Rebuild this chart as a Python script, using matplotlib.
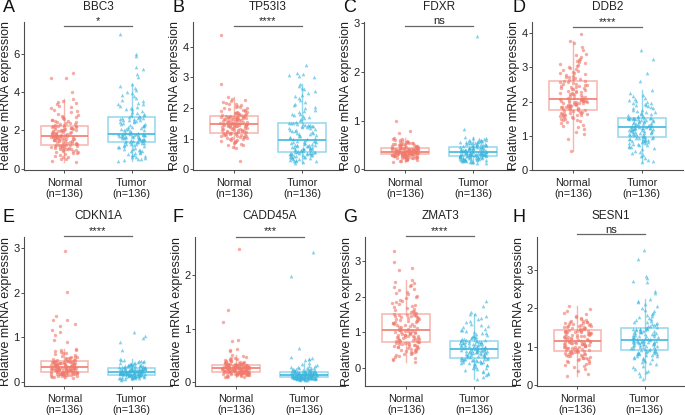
import numpy as np
import matplotlib
matplotlib.use('Agg')
import matplotlib.pyplot as plt

plt.rcParams['font.family'] = ['Liberation Sans', 'DejaVu Sans']

genes = ['BBC3', 'TP53I3', 'FDXR', 'DDB2', 'CDKN1A', 'CADD45A', 'ZMAT3', 'SESN1']
panel_letters = ['A', 'B', 'C', 'D', 'E', 'F', 'G', 'H']
significance = ['*', '****', 'ns', '****', '****', '***', '****', 'ns']
group_labels = ['Normal\n(n=136)', 'Tumor\n(n=136)']

bbc3_normal = [0.34, 0.41, 0.5, 0.53, 0.6, 0.64, 0.65, 0.72, 0.77, 0.8, 0.83, 0.86, 0.9, 0.91, 0.95, 0.97, 0.99, 1.01, 1.03, 1.05, 1.06, 1.08, 1.1, 1.11, 1.13, 1.14, 1.16, 1.17, 1.19, 1.2, 1.22, 1.23, 1.24, 1.25,
               1.26, 1.27, 1.3, 1.31, 1.33, 1.36, 1.37, 1.38, 1.41, 1.42, 1.44, 1.45, 1.47, 1.48, 1.5, 1.51, 1.52, 1.54, 1.55, 1.57, 1.58, 1.6, 1.61, 1.62, 1.63, 1.65, 1.66, 1.67, 1.68, 1.69, 1.7, 1.71, 1.72, 1.72,
               1.73, 1.74, 1.76, 1.77, 1.79, 1.8, 1.82, 1.83, 1.85, 1.86, 1.88, 1.9, 1.91, 1.93, 1.95, 1.96, 1.98, 2.0, 2.01, 2.03, 2.04, 2.06, 2.08, 2.09, 2.11, 2.12, 2.14, 2.16, 2.17, 2.19, 2.2, 2.22, 2.24, 2.25,
               2.27, 2.3, 2.32, 2.35, 2.37, 2.4, 2.43, 2.46, 2.5, 2.53, 2.56, 2.6, 2.63, 2.68, 2.72, 2.77, 2.83, 2.88, 2.95, 3.02, 3.08, 3.15, 3.22, 3.3, 3.38, 3.45, 3.5, 3.55, 3.62, 4.0, 4.72, 4.75, 5.0, 2.48]
bbc3_tumor = [0.43, 0.47, 0.5, 0.52, 0.55, 0.6, 0.61, 0.66, 0.7, 0.74, 0.78, 0.8, 0.85, 0.88, 0.92, 0.95, 0.97, 1.0, 1.04, 1.06, 1.1, 1.12, 1.15, 1.18, 1.2, 1.23, 1.25, 1.27, 1.3, 1.32, 1.34, 1.36, 1.38, 1.4,
              1.41, 1.42, 1.44, 1.45, 1.47, 1.49, 1.5, 1.52, 1.53, 1.55, 1.56, 1.58, 1.59, 1.6, 1.62, 1.63, 1.64, 1.66, 1.67, 1.68, 1.7, 1.71, 1.72, 1.73, 1.74, 1.75, 1.76, 1.77, 1.78, 1.79, 1.8, 1.81, 1.82, 1.82,
              1.84, 1.86, 1.89, 1.91, 1.94, 1.97, 2.0, 2.02, 2.05, 2.08, 2.1, 2.13, 2.16, 2.19, 2.22, 2.25, 2.28, 2.3, 2.33, 2.36, 2.39, 2.42, 2.45, 2.47, 2.5, 2.52, 2.55, 2.57, 2.6, 2.62, 2.64, 2.66, 2.67, 2.68,
              2.7, 2.74, 2.78, 2.82, 2.87, 2.92, 2.97, 3.03, 3.1, 3.16, 3.22, 3.3, 3.37, 3.45, 3.52, 3.6, 3.68, 3.77, 3.85, 3.93, 4.0, 4.1, 4.22, 4.3, 4.42, 4.8, 4.92, 5.2, 5.3, 5.9, 6.0, 7.0, 3.4, 3.1]

tp53i3_normal = [0.27, 0.7, 0.74, 0.78, 0.8, 0.84, 0.87, 0.89, 0.9, 0.92, 0.94, 0.95, 0.97, 0.98, 1.0, 1.01, 1.02, 1.04, 1.05, 1.06, 1.07, 1.08, 1.09, 1.1, 1.11, 1.12, 1.13, 1.14, 1.15, 1.16, 1.17, 1.18, 1.19, 1.19,
                 1.2, 1.21, 1.22, 1.23, 1.24, 1.25, 1.26, 1.27, 1.28, 1.29, 1.3, 1.31, 1.32, 1.33, 1.34, 1.35, 1.36, 1.37, 1.38, 1.39, 1.4, 1.41, 1.42, 1.42, 1.43, 1.44, 1.44, 1.45, 1.45, 1.46, 1.46, 1.47, 1.47, 1.48,
                 1.49, 1.5, 1.5, 1.51, 1.52, 1.53, 1.54, 1.55, 1.56, 1.56, 1.57, 1.58, 1.59, 1.6, 1.61, 1.61, 1.62, 1.63, 1.64, 1.65, 1.65, 1.66, 1.67, 1.67, 1.68, 1.69, 1.69, 1.7, 1.7, 1.71, 1.71, 1.72, 1.72, 1.73,
                 1.74, 1.75, 1.76, 1.77, 1.78, 1.79, 1.8, 1.81, 1.83, 1.84, 1.85, 1.87, 1.88, 1.9, 1.91, 1.93, 1.95, 1.97, 1.99, 2.01, 2.03, 2.05, 2.07, 2.1, 2.12, 2.15, 2.18, 2.2, 2.23, 2.27, 2.31, 2.35, 2.78, 4.4]
tp53i3_tumor = [0.22, 0.24, 0.26, 0.27, 0.29, 0.3, 0.32, 0.33, 0.35, 0.36, 0.37, 0.39, 0.4, 0.41, 0.42, 0.43, 0.44, 0.45, 0.46, 0.47, 0.48, 0.49, 0.5, 0.5, 0.51, 0.52, 0.52, 0.53, 0.54, 0.54, 0.55, 0.56, 0.56, 0.57,
                0.58, 0.59, 0.6, 0.61, 0.62, 0.63, 0.64, 0.65, 0.66, 0.67, 0.68, 0.69, 0.7, 0.71, 0.72, 0.73, 0.74, 0.75, 0.76, 0.77, 0.78, 0.79, 0.8, 0.81, 0.82, 0.84, 0.85, 0.86, 0.88, 0.89, 0.9, 0.92, 0.93, 0.94,
                0.96, 0.98, 1.0, 1.02, 1.04, 1.06, 1.08, 1.1, 1.12, 1.14, 1.16, 1.18, 1.2, 1.22, 1.24, 1.26, 1.28, 1.3, 1.32, 1.34, 1.35, 1.37, 1.38, 1.4, 1.41, 1.42, 1.43, 1.44, 1.45, 1.46, 1.47, 1.48, 1.5, 1.51,
                1.53, 1.56, 1.6, 1.63, 1.67, 1.7, 1.74, 1.78, 1.82, 1.86, 1.9, 1.95, 2.0, 2.05, 2.1, 2.15, 2.2, 2.26, 2.32, 2.38, 2.44, 2.5, 2.56, 2.62, 2.66, 2.72, 2.79, 3.0, 3.05, 3.08, 3.12, 3.15, 3.42, 1.8]

fdxr_normal = [0.14, 0.16, 0.17, 0.18, 0.19, 0.196, 0.202, 0.208, 0.214, 0.219, 0.224, 0.228, 0.232, 0.236, 0.24, 0.244, 0.248, 0.251, 0.254, 0.257, 0.26, 0.263, 0.266, 0.269, 0.272, 0.275, 0.278, 0.281, 0.284, 0.287, 0.29, 0.293, 0.296, 0.299,
               0.301, 0.303, 0.305, 0.307, 0.309, 0.31, 0.312, 0.314, 0.315, 0.317, 0.318, 0.32, 0.322, 0.323, 0.325, 0.326, 0.328, 0.33, 0.331, 0.333, 0.335, 0.336, 0.338, 0.34, 0.341, 0.343, 0.345, 0.347, 0.349, 0.351, 0.353, 0.355, 0.357, 0.36,
               0.362, 0.364, 0.366, 0.368, 0.37, 0.373, 0.375, 0.377, 0.379, 0.381, 0.384, 0.386, 0.388, 0.391, 0.393, 0.395, 0.398, 0.4, 0.402, 0.405, 0.407, 0.41, 0.412, 0.415, 0.417, 0.42, 0.422, 0.425, 0.427, 0.43, 0.432, 0.435, 0.437, 0.44,
               0.45, 0.45, 0.46, 0.46, 0.47, 0.47, 0.48, 0.48, 0.49, 0.49, 0.5, 0.5, 0.51, 0.51, 0.52, 0.52, 0.53, 0.53, 0.54, 0.54, 0.55, 0.56, 0.56, 0.57, 0.58, 0.59, 0.6, 0.61, 0.62, 0.64, 0.75, 0.78, 1.0, 0.5]
fdxr_tumor = [0.12, 0.13, 0.14, 0.147, 0.153, 0.158, 0.163, 0.168, 0.172, 0.176, 0.18, 0.184, 0.188, 0.192, 0.195, 0.198, 0.202, 0.205, 0.208, 0.212, 0.215, 0.218, 0.222, 0.225, 0.228, 0.232, 0.235, 0.238, 0.242, 0.245, 0.249, 0.252, 0.256, 0.26,
              0.262, 0.265, 0.267, 0.27, 0.272, 0.275, 0.277, 0.279, 0.282, 0.284, 0.286, 0.289, 0.291, 0.293, 0.296, 0.298, 0.3, 0.303, 0.305, 0.307, 0.31, 0.312, 0.314, 0.317, 0.319, 0.321, 0.324, 0.326, 0.328, 0.331, 0.333, 0.335, 0.338, 0.34,
              0.343, 0.347, 0.35, 0.354, 0.357, 0.361, 0.364, 0.368, 0.371, 0.375, 0.378, 0.382, 0.385, 0.389, 0.392, 0.396, 0.399, 0.403, 0.406, 0.41, 0.413, 0.417, 0.42, 0.424, 0.427, 0.431, 0.434, 0.438, 0.441, 0.445, 0.448, 0.452, 0.456, 0.46,
              0.47, 0.47, 0.48, 0.48, 0.49, 0.49, 0.5, 0.5, 0.51, 0.51, 0.52, 0.52, 0.53, 0.53, 0.54, 0.54, 0.55, 0.55, 0.56, 0.56, 0.57, 0.57, 0.58, 0.58, 0.59, 0.6, 0.6, 0.61, 0.62, 0.63, 0.64, 0.66, 0.83, 2.74]

ddb2_normal = [0.55, 0.9, 1.05, 1.12, 1.2, 1.25, 1.3, 1.33, 1.37, 1.4, 1.42, 1.45, 1.47, 1.49, 1.5, 1.52, 1.54, 1.55, 1.57, 1.58, 1.6, 1.61, 1.62, 1.63, 1.64, 1.65, 1.66, 1.67, 1.68, 1.69, 1.71, 1.72, 1.74, 1.75,
               1.76, 1.77, 1.78, 1.79, 1.8, 1.81, 1.82, 1.83, 1.84, 1.85, 1.86, 1.87, 1.88, 1.89, 1.9, 1.91, 1.92, 1.93, 1.94, 1.95, 1.96, 1.97, 1.98, 1.99, 2.0, 2.0, 2.01, 2.02, 2.02, 2.03, 2.04, 2.04, 2.05, 2.06,
               2.07, 2.09, 2.1, 2.12, 2.13, 2.15, 2.16, 2.18, 2.2, 2.21, 2.23, 2.24, 2.26, 2.28, 2.29, 2.31, 2.32, 2.34, 2.36, 2.37, 2.39, 2.4, 2.42, 2.44, 2.45, 2.47, 2.48, 2.5, 2.51, 2.53, 2.54, 2.56, 2.57, 2.59,
               2.61, 2.63, 2.65, 2.67, 2.69, 2.71, 2.73, 2.75, 2.78, 2.8, 2.83, 2.85, 2.88, 2.9, 2.93, 2.95, 2.98, 3.0, 3.03, 3.06, 3.09, 3.12, 3.15, 3.18, 3.22, 3.26, 3.3, 3.35, 3.4, 3.5, 3.6, 3.72, 3.76, 3.97]
ddb2_tumor = [0.22, 0.26, 0.3, 0.35, 0.4, 0.45, 0.5, 0.53, 0.57, 0.6, 0.63, 0.66, 0.68, 0.7, 0.72, 0.74, 0.76, 0.77, 0.79, 0.8, 0.81, 0.83, 0.84, 0.85, 0.86, 0.87, 0.88, 0.89, 0.9, 0.91, 0.92, 0.93, 0.94, 0.95,
              0.96, 0.97, 0.98, 0.99, 1.0, 1.01, 1.02, 1.03, 1.04, 1.05, 1.06, 1.07, 1.08, 1.09, 1.1, 1.11, 1.12, 1.13, 1.14, 1.15, 1.16, 1.17, 1.18, 1.19, 1.2, 1.2, 1.21, 1.22, 1.22, 1.23, 1.23, 1.24, 1.24, 1.25,
              1.26, 1.27, 1.28, 1.29, 1.3, 1.31, 1.32, 1.33, 1.34, 1.35, 1.36, 1.37, 1.38, 1.39, 1.4, 1.41, 1.42, 1.43, 1.44, 1.45, 1.46, 1.47, 1.48, 1.49, 1.5, 1.5, 1.51, 1.51, 1.52, 1.52, 1.52, 1.53, 1.53, 1.53,
              1.55, 1.57, 1.59, 1.61, 1.63, 1.65, 1.67, 1.69, 1.71, 1.73, 1.75, 1.77, 1.8, 1.82, 1.85, 1.87, 1.9, 1.92, 1.95, 1.97, 2.0, 2.02, 2.05, 2.08, 2.12, 2.16, 2.2, 2.26, 2.35, 2.61, 2.85, 3.24, 3.5, 1.9]

cdkn1a_normal = [0.1, 0.11, 0.12, 0.12, 0.13, 0.13, 0.14, 0.14, 0.15, 0.15, 0.16, 0.16, 0.17, 0.17, 0.17, 0.18, 0.18, 0.18, 0.19, 0.19, 0.19, 0.2, 0.2, 0.2, 0.21, 0.21, 0.21, 0.21, 0.22, 0.22, 0.22, 0.22, 0.23, 0.23,
                 0.23, 0.24, 0.24, 0.24, 0.25, 0.25, 0.25, 0.26, 0.26, 0.26, 0.27, 0.27, 0.27, 0.28, 0.28, 0.28, 0.29, 0.29, 0.29, 0.3, 0.3, 0.3, 0.3, 0.31, 0.31, 0.31, 0.31, 0.32, 0.32, 0.32, 0.32, 0.33, 0.33, 0.33,
                 0.34, 0.34, 0.35, 0.35, 0.36, 0.36, 0.37, 0.37, 0.38, 0.38, 0.38, 0.39, 0.39, 0.4, 0.4, 0.4, 0.41, 0.41, 0.42, 0.42, 0.42, 0.43, 0.43, 0.43, 0.44, 0.44, 0.44, 0.45, 0.45, 0.45, 0.46, 0.46, 0.47, 0.47,
                 0.48, 0.49, 0.5, 0.51, 0.52, 0.53, 0.54, 0.55, 0.56, 0.57, 0.58, 0.6, 0.62, 0.64, 0.66, 0.68, 0.7, 0.71, 0.72, 0.74, 0.89, 0.95, 1.05, 1.13, 1.17, 1.26, 1.29, 1.38, 1.39, 1.47, 2.01, 2.93, 0.5, 0.53]
cdkn1a_tumor = [0.05, 0.06, 0.07, 0.08, 0.08, 0.09, 0.09, 0.1, 0.1, 0.11, 0.11, 0.11, 0.12, 0.12, 0.12, 0.13, 0.13, 0.13, 0.13, 0.14, 0.14, 0.14, 0.14, 0.15, 0.15, 0.15, 0.15, 0.15, 0.16, 0.16, 0.16, 0.16, 0.16, 0.16,
                0.17, 0.17, 0.17, 0.17, 0.18, 0.18, 0.18, 0.18, 0.18, 0.19, 0.19, 0.19, 0.19, 0.19, 0.2, 0.2, 0.2, 0.2, 0.2, 0.21, 0.21, 0.21, 0.21, 0.21, 0.22, 0.22, 0.22, 0.22, 0.22, 0.23, 0.23, 0.23, 0.23, 0.23,
                0.24, 0.24, 0.24, 0.24, 0.25, 0.25, 0.25, 0.25, 0.26, 0.26, 0.26, 0.26, 0.27, 0.27, 0.27, 0.27, 0.28, 0.28, 0.28, 0.28, 0.29, 0.29, 0.29, 0.29, 0.3, 0.3, 0.3, 0.3, 0.31, 0.31, 0.31, 0.32, 0.32, 0.32,
                0.33, 0.33, 0.34, 0.34, 0.35, 0.35, 0.36, 0.36, 0.37, 0.37, 0.38, 0.38, 0.39, 0.39, 0.4, 0.4, 0.41, 0.42, 0.42, 0.43, 0.44, 0.45, 0.46, 0.47, 0.48, 0.49, 0.5, 0.52, 0.72, 0.9, 0.98, 1.04, 1.11, 0.36]

gadd45a_normal = [0.08, 0.09, 0.098, 0.104, 0.11, 0.115, 0.12, 0.124, 0.128, 0.131, 0.134, 0.137, 0.14, 0.143, 0.145, 0.148, 0.15, 0.152, 0.154, 0.156, 0.158, 0.16, 0.162, 0.164, 0.166, 0.167, 0.169, 0.171, 0.172, 0.174, 0.176, 0.177, 0.179, 0.18,
                  0.181, 0.184, 0.185, 0.188, 0.191, 0.192, 0.195, 0.196, 0.199, 0.2, 0.203, 0.204, 0.207, 0.208, 0.211, 0.212, 0.214, 0.217, 0.218, 0.221, 0.222, 0.225, 0.226, 0.228, 0.231, 0.232, 0.235, 0.236, 0.239, 0.24, 0.243, 0.245, 0.248, 0.25,
                  0.252, 0.254, 0.256, 0.258, 0.26, 0.262, 0.264, 0.266, 0.268, 0.27, 0.272, 0.274, 0.276, 0.278, 0.28, 0.282, 0.284, 0.286, 0.288, 0.29, 0.292, 0.294, 0.296, 0.298, 0.3, 0.302, 0.304, 0.306, 0.308, 0.31, 0.312, 0.314, 0.317, 0.32,
                  0.323, 0.326, 0.33, 0.334, 0.338, 0.342, 0.346, 0.35, 0.355, 0.36, 0.365, 0.37, 0.376, 0.382, 0.388, 0.395, 0.402, 0.41, 0.42, 0.43, 0.44, 0.455, 0.47, 0.485, 0.5, 0.58, 0.6, 0.62, 0.76, 0.79, 1.13, 1.34, 2.5, 0.36]
gadd45a_tumor = [0.03, 0.036, 0.041, 0.044, 0.047, 0.05, 0.052, 0.054, 0.056, 0.058, 0.059, 0.061, 0.062, 0.063, 0.065, 0.066, 0.067, 0.068, 0.069, 0.07, 0.071, 0.072, 0.073, 0.074, 0.075, 0.075, 0.076, 0.077, 0.077, 0.078, 0.078, 0.079, 0.079, 0.08,
                 0.081, 0.082, 0.083, 0.084, 0.085, 0.086, 0.087, 0.088, 0.089, 0.09, 0.092, 0.093, 0.095, 0.096, 0.098, 0.099, 0.101, 0.102, 0.104, 0.105, 0.107, 0.108, 0.11, 0.112, 0.113, 0.115, 0.117, 0.118, 0.12, 0.122, 0.124, 0.126, 0.128, 0.13,
                 0.131, 0.133, 0.135, 0.136, 0.138, 0.14, 0.141, 0.143, 0.145, 0.146, 0.148, 0.15, 0.151, 0.153, 0.155, 0.156, 0.158, 0.16, 0.161, 0.163, 0.165, 0.167, 0.168, 0.17, 0.172, 0.174, 0.176, 0.178, 0.18, 0.182, 0.184, 0.186, 0.188, 0.19,
                 0.192, 0.195, 0.198, 0.201, 0.205, 0.208, 0.212, 0.216, 0.22, 0.225, 0.23, 0.235, 0.24, 0.246, 0.252, 0.258, 0.265, 0.272, 0.28, 0.29, 0.3, 0.315, 0.33, 0.35, 0.4, 0.42, 0.43, 0.45, 0.47, 0.63, 1.98, 2.44, 0.226, 0.262]

zmat3_normal = [0.16, 0.2, 0.24, 0.27, 0.3, 0.32, 0.35, 0.37, 0.39, 0.41, 0.43, 0.45, 0.46, 0.48, 0.49, 0.5, 0.52, 0.53, 0.54, 0.55, 0.57, 0.58, 0.59, 0.6, 0.61, 0.62, 0.63, 0.64, 0.65, 0.66, 0.67, 0.68, 0.69, 0.7,
                0.71, 0.72, 0.73, 0.74, 0.75, 0.76, 0.77, 0.78, 0.79, 0.8, 0.81, 0.82, 0.83, 0.84, 0.85, 0.86, 0.87, 0.88, 0.89, 0.9, 0.91, 0.92, 0.93, 0.94, 0.95, 0.96, 0.97, 0.98, 0.99, 1.0, 1.01, 1.02, 1.03, 1.04,
                1.05, 1.07, 1.08, 1.1, 1.11, 1.13, 1.14, 1.16, 1.17, 1.19, 1.2, 1.22, 1.23, 1.25, 1.26, 1.28, 1.29, 1.31, 1.32, 1.34, 1.35, 1.37, 1.38, 1.39, 1.41, 1.42, 1.43, 1.44, 1.45, 1.46, 1.47, 1.48, 1.49, 1.5,
                1.52, 1.54, 1.56, 1.58, 1.6, 1.63, 1.65, 1.68, 1.7, 1.73, 1.76, 1.79, 1.82, 1.85, 1.88, 1.91, 1.95, 1.98, 2.02, 2.06, 2.1, 2.14, 2.18, 2.22, 2.26, 2.3, 2.34, 2.38, 2.42, 2.47, 2.75, 2.8, 2.98, 3.28]
zmat3_tumor = [-0.32, -0.28, -0.22, -0.19, -0.16, -0.12, -0.1, -0.07, -0.04, -0.02, 0.0, 0.02, 0.04, 0.06, 0.08, 0.09, 0.11, 0.12, 0.13, 0.14, 0.15, 0.16, 0.17, 0.18, 0.19, 0.2, 0.2, 0.21, 0.22, 0.22, 0.23, 0.24, 0.24, 0.25,
               0.26, 0.27, 0.28, 0.29, 0.3, 0.31, 0.32, 0.33, 0.34, 0.35, 0.36, 0.36, 0.37, 0.38, 0.39, 0.4, 0.41, 0.41, 0.42, 0.43, 0.44, 0.44, 0.45, 0.46, 0.46, 0.47, 0.47, 0.48, 0.48, 0.49, 0.49, 0.5, 0.5, 0.51,
               0.52, 0.52, 0.53, 0.54, 0.54, 0.55, 0.56, 0.57, 0.57, 0.58, 0.59, 0.6, 0.6, 0.61, 0.62, 0.63, 0.63, 0.64, 0.65, 0.66, 0.66, 0.67, 0.68, 0.69, 0.69, 0.7, 0.71, 0.72, 0.72, 0.73, 0.74, 0.75, 0.75, 0.76,
               0.77, 0.78, 0.79, 0.8, 0.81, 0.82, 0.84, 0.85, 0.87, 0.88, 0.9, 0.92, 0.94, 0.96, 0.98, 1.0, 1.02, 1.05, 1.07, 1.1, 1.13, 1.16, 1.2, 1.24, 1.28, 1.32, 1.36, 1.4, 1.45, 1.5, 1.52, 1.58, 1.73, 1.87]

sesn1_normal = [0.23, 0.3, 0.38, 0.43, 0.47, 0.5, 0.53, 0.56, 0.58, 0.6, 0.62, 0.64, 0.66, 0.67, 0.69, 0.7, 0.71, 0.72, 0.73, 0.75, 0.76, 0.77, 0.78, 0.79, 0.8, 0.81, 0.82, 0.83, 0.84, 0.85, 0.86, 0.86, 0.87, 0.88,
                0.89, 0.9, 0.91, 0.91, 0.92, 0.93, 0.94, 0.95, 0.96, 0.96, 0.97, 0.98, 0.99, 1.0, 1.0, 1.01, 1.02, 1.03, 1.04, 1.04, 1.05, 1.06, 1.07, 1.08, 1.08, 1.09, 1.1, 1.1, 1.11, 1.12, 1.12, 1.13, 1.13, 1.14,
                1.15, 1.16, 1.17, 1.18, 1.19, 1.2, 1.21, 1.22, 1.23, 1.24, 1.25, 1.26, 1.27, 1.28, 1.29, 1.3, 1.31, 1.31, 1.32, 1.33, 1.34, 1.35, 1.36, 1.36, 1.37, 1.38, 1.39, 1.39, 1.4, 1.41, 1.41, 1.42, 1.42, 1.43,
                1.44, 1.45, 1.46, 1.47, 1.48, 1.49, 1.5, 1.51, 1.52, 1.53, 1.54, 1.55, 1.56, 1.57, 1.58, 1.59, 1.6, 1.61, 1.62, 1.63, 1.64, 1.65, 1.67, 1.68, 1.7, 1.72, 1.74, 1.77, 1.8, 1.84, 1.88, 1.93, 1.99, 2.06]
sesn1_tumor = [0.17, 0.25, 0.32, 0.35, 0.38, 0.42, 0.47, 0.5, 0.54, 0.57, 0.6, 0.62, 0.65, 0.67, 0.69, 0.71, 0.72, 0.74, 0.75, 0.77, 0.78, 0.79, 0.8, 0.81, 0.82, 0.83, 0.84, 0.85, 0.86, 0.87, 0.87, 0.88, 0.89, 0.9,
               0.91, 0.92, 0.93, 0.94, 0.95, 0.96, 0.97, 0.98, 0.99, 1.0, 1.01, 1.02, 1.03, 1.04, 1.05, 1.06, 1.07, 1.07, 1.08, 1.09, 1.1, 1.1, 1.11, 1.12, 1.12, 1.13, 1.13, 1.14, 1.14, 1.15, 1.15, 1.16, 1.16, 1.17,
               1.18, 1.19, 1.2, 1.21, 1.22, 1.23, 1.24, 1.25, 1.26, 1.27, 1.28, 1.29, 1.3, 1.31, 1.32, 1.33, 1.34, 1.35, 1.36, 1.37, 1.38, 1.39, 1.4, 1.41, 1.42, 1.43, 1.44, 1.45, 1.45, 1.46, 1.47, 1.47, 1.48, 1.49,
               1.51, 1.53, 1.55, 1.57, 1.59, 1.61, 1.63, 1.65, 1.68, 1.7, 1.73, 1.76, 1.79, 1.82, 1.85, 1.88, 1.92, 1.96, 2.0, 2.05, 2.1, 2.15, 2.2, 2.24, 2.4, 2.45, 2.68, 2.72, 2.78, 2.83, 3.28, 3.5, 1.74, 1.6]

normal_values = [bbc3_normal, tp53i3_normal, fdxr_normal, ddb2_normal, cdkn1a_normal, gadd45a_normal, zmat3_normal, sesn1_normal]
tumor_values = [bbc3_tumor, tp53i3_tumor, fdxr_tumor, ddb2_tumor, cdkn1a_tumor, gadd45a_tumor, zmat3_tumor, sesn1_tumor]

# ---------------- layout / style ----------------
W, H = 685, 415
fig = plt.figure(figsize=(W / 100, H / 100), dpi=100)

# axes boxes in pixels: (left, top, right, bottom)
boxes = [(24, 22, 172, 170), (193, 22, 343, 170), (364, 22, 514, 170), (532, 22, 683, 170),
         (24, 237, 172, 386), (195, 237, 345, 386), (365, 237, 515, 386), (537, 237, 685, 386)]
ylims = [(-0.06, 7.65), (-0.02, 4.81), (-0.02, 3.03), (0.0, 4.33),
         (-0.09, 3.25), (-0.08, 2.72), (-0.52, 3.68), (-0.02, 3.85)]
yticks = [[0, 2, 4, 6], [0, 1, 2, 3, 4], [0, 1, 2, 3], [0, 1, 2, 3, 4],
          [0, 1, 2, 3], [0, 1, 2], [0, 1, 2, 3], [0, 1, 2, 3]]
bracket_px = [26.5, 25.7, 26, 26.7, 236, 236.5, 236.5, 234.5]
title_px = [7, 7, 7, 7, 216, 216, 216, 216]
letter_px = [(3, 8), (173, 8), (343, 8), (512, 8), (3, 217), (173, 217), (343, 217), (512, 217)]

col_n = '#F07A6C'
col_t = '#3DB6DE'
axis_col = '#4d4d4d'
text_col = '#222222'


def jitter(n, k):
    i = np.arange(n) + 1.0
    h = np.sin(i * 12.9898 + k * 78.233) * 43758.5453
    return (h - np.floor(h)) - 0.5


for k in range(8):
    l, t, r, b = boxes[k]
    ax = fig.add_axes([l / W, 1 - b / H, (r - l) / W, (b - t) / H])
    ax.set_xlim(0.4, 2.6)
    ax.set_ylim(*ylims[k])
    data = [np.asarray(normal_values[k]), np.asarray(tumor_values[k])]
    cols = [col_n, col_t]
    bp = ax.boxplot(data, positions=[1, 2], widths=0.7, showfliers=False, showcaps=False,
                    whis=1.5, patch_artist=True, zorder=2)
    for j in range(2):
        c = cols[j]
        bp['boxes'][j].set(facecolor='none', edgecolor=c, alpha=0.55, linewidth=1.1)
        bp['medians'][j].set(color=c, alpha=0.9, linewidth=1.3)
        for w in bp['whiskers'][2 * j:2 * j + 2]:
            w.set(color=c, alpha=0.55, linewidth=1.0)
    ax.scatter(1 + 0.4 * jitter(len(data[0]), k), data[0], s=6, marker='o',
               color=col_n, alpha=0.62, linewidths=0, zorder=3)
    ax.scatter(2 + 0.4 * jitter(len(data[1]), k + 11), data[1], s=7, marker='^',
               color=col_t, alpha=0.62, linewidths=0, zorder=3)

    ax.set_xticks([1, 2])
    ax.set_xticklabels(group_labels, fontsize=7.8, color=text_col, linespacing=1.2)
    ax.set_yticks(yticks[k])
    ax.set_yticklabels([str(v) for v in yticks[k]], fontsize=8, color=text_col)
    ax.tick_params(axis='y', length=2, width=0.7, color=axis_col, pad=1.2)
    ax.tick_params(axis='x', length=2, width=0.7, color=axis_col, pad=3.5)
    for s in ['top', 'right']:
        ax.spines[s].set_visible(False)
    for s in ['left', 'bottom']:
        ax.spines[s].set_color(axis_col)
        ax.spines[s].set_linewidth(0.8)
    ax.set_ylabel('Relative mRNA expression', fontsize=9, color=text_col, labelpad=1)

    # significance bracket
    y0, y1 = ylims[k]
    by = y1 - (bracket_px[k] - t) / (b - t) * (y1 - y0)
    ax.plot([1, 2], [by, by], color='#666666', lw=0.9, clip_on=False, zorder=4)
    ax.annotate(significance[k], xy=(1.5, by), xytext=(0, 0), textcoords='offset points',
                ha='center', va='bottom', fontsize=8, color=text_col, annotation_clip=False)

    fig.text(((l + r) / 2) / W, 1 - title_px[k] / H, genes[k], ha='center', va='center',
             fontsize=8.5, color=text_col)
    lx, ly = letter_px[k]
    fig.text(lx / W, 1 - ly / H, panel_letters[k], ha='left', va='center',
             fontsize=13, color='#111111')

fig.savefig('out.png', dpi=100)
